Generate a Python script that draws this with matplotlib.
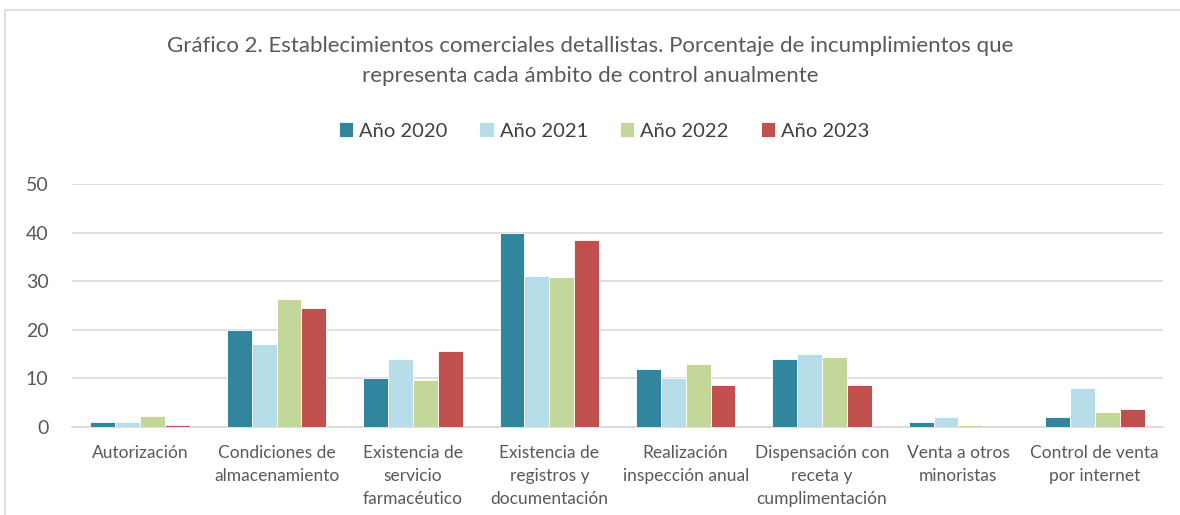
"""Bar chart: incumplimientos por ámbito de control, 2020-2023."""

import matplotlib.pyplot as plt
import numpy as np
from matplotlib.patches import Rectangle

CATEGORIES = [
    "Autorización",
    "Condiciones de\nalmacenamiento",
    "Existencia de\nservicio\nfarmacéutico",
    "Existencia de\nregistros y\ndocumentación",
    "Realización\ninspección anual",
    "Dispensación con\nreceta y\ncumplimentación",
    "Venta a otros\nminoristas",
    "Control de venta\npor internet",
]
YEARS = ["Año 2020", "Año 2021", "Año 2022", "Año 2023"]
Y2020 = [1.0, 20.0, 10.0, 40.0, 12.0, 14.0, 1.0, 2.0]
Y2021 = [1.0, 17.0, 14.0, 31.0, 10.0, 15.0, 2.0, 8.0]
Y2022 = [2.3, 26.3, 9.6, 30.9, 13.0, 14.5, 0.4, 3.0]
Y2023 = [0.4, 24.4, 15.6, 38.4, 8.7, 8.7, 0.0, 3.7]
COLORS = ["#31859C", "#B7DEE8", "#C4D79B", "#C0504D"]
YTICKS = [0, 10, 20, 30, 40, 50]

TEXT = "#595959"

plt.rcParams["font.family"] = ["Lato", "DejaVu Sans"]

fig = plt.figure(figsize=(11.8, 5.15), dpi=100)
W, H = 1180, 515
ax = fig.add_axes([72 / W, 1 - 427 / H, (1163 - 72) / W, (427 - 184) / H])

x = np.arange(len(CATEGORIES))
width = 0.73 / 4
for i, (vals, color, label) in enumerate(zip([Y2020, Y2021, Y2022, Y2023], COLORS, YEARS)):
    ax.bar(x + (i - 1.5) * width, vals, width, color=color, label=label,
           edgecolor="white", linewidth=0.6, zorder=3)

ax.set_xlim(-0.5, len(CATEGORIES) - 0.5)
ax.set_ylim(0, 50)
ax.set_yticks(YTICKS)
ax.set_xticks(x)
ax.set_xticklabels(CATEGORIES, fontsize=12.5, color=TEXT, linespacing=1.55)
ax.tick_params(axis="y", labelsize=14, colors=TEXT, length=0, pad=17)
ax.tick_params(axis="x", length=0, pad=13)
ax.grid(axis="y", color="#D9D9D9", linewidth=1.2, zorder=0)
for side in ("top", "right", "left"):
    ax.spines[side].set_visible(False)
ax.spines["bottom"].set_color("#D9D9D9")
ax.spines["bottom"].set_linewidth(1.2)

fig.text(0.5, 1 - 46 / H, "Gráfico 2. Establecimientos comerciales detallistas. Porcentaje de incumplimientos que",
         ha="center", va="center", fontsize=16, color=TEXT)
fig.text(0.5, 1 - 76 / H, "representa cada ámbito de control anualmente",
         ha="center", va="center", fontsize=16, color=TEXT)

fig.legend(loc="center", bbox_to_anchor=(604 / W, 1 - 131 / H), ncol=4, frameon=False,
           fontsize=14.5, labelcolor="#404040", handlelength=0.7, handleheight=0.7,
           handletextpad=0.3, columnspacing=1.6)

fig.patches.append(Rectangle((5 / W, -0.1), 1.2, 1 - 10 / H + 0.1, transform=fig.transFigure,
                             fill=False, edgecolor="#D9D9D9", linewidth=1.2))

fig.savefig("out.png", dpi=100)
